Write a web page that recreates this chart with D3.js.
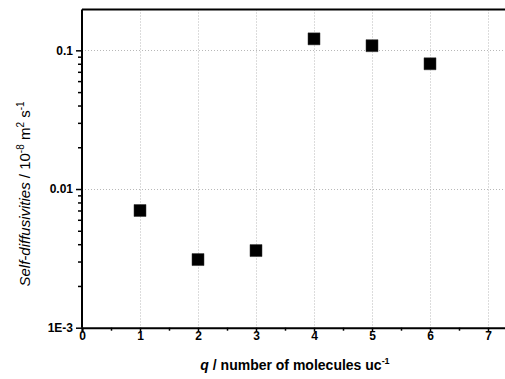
<!DOCTYPE html>
<html><head><meta charset="utf-8">
<script src="https://cdn.jsdelivr.net/npm/d3@7"></script>
<style>
html,body{margin:0;padding:0;background:#fff;}
svg{display:block;font-family:"Liberation Sans",Arial,sans-serif;}
</style></head>
<body>
<script>
const qValues = [1, 2, 3, 4, 5, 6];
const diffusivities = [0.0070, 0.0031, 0.0036, 0.121, 0.108, 0.080];
const xTickValues = [0, 1, 2, 3, 4, 5, 6, 7];
const yTickValues = [0.001, 0.01, 0.1];
const yTickLabels = ["1E-3", "0.01", "0.1"];

(function () {
const W = 505, H = 379;
const svg = d3.select("body").append("svg").attr("width", W).attr("height", H);

const x = d3.scaleLinear().domain([0, 7.5]).range([82, 82 + 7.5 * 58]);
const y = d3.scaleLog().domain([0.001, 0.197]).range([327.7, 9.5]);

const yTop = y.range()[1], yBot = y.range()[0];
const xLeft = x.range()[0], xRight = x.range()[1];

// grid
const grid = svg.append("g").attr("stroke", "#b8b8b8").attr("stroke-width", 1).attr("stroke-dasharray", "1,2");
grid.selectAll("line.v").data(xTickValues.filter(d => d > 0)).join("line")
  .attr("x1", d => Math.round(x(d)) + 0.5).attr("x2", d => Math.round(x(d)) + 0.5)
  .attr("y1", yTop).attr("y2", yBot);
grid.selectAll("line.h").data(yTickValues.filter(d => d > 0.001)).join("line")
  .attr("y1", d => Math.round(y(d)) + 0.5).attr("y2", d => Math.round(y(d)) + 0.5)
  .attr("x1", xLeft).attr("x2", xRight);

// frame top
svg.append("line").attr("x1", xLeft).attr("x2", xRight).attr("y1", yTop).attr("y2", yTop)
  .attr("stroke", "#000").attr("stroke-width", 2);

// x axis
const xAxis = d3.axisBottom(x).tickValues(xTickValues).tickFormat(d3.format("d")).tickSize(4).tickPadding(0);
const gx = svg.append("g").attr("transform", `translate(0,${yBot})`).call(xAxis);
gx.select(".domain").attr("stroke-width", 2);
gx.selectAll(".tick line").attr("stroke-width", 1.5);
gx.selectAll(".tick text").attr("font-size", 12).attr("font-weight", "bold").attr("fill", "#000")
  .attr("font-family", '"Liberation Sans",Arial,sans-serif');
const xMinor = d3.axisBottom(x).tickValues(d3.range(0.5, 7.5, 1)).tickSize(3).tickFormat("");
const gxm = svg.append("g").attr("transform", `translate(0,${yBot})`).call(xMinor);
gxm.select(".domain").remove();
gxm.selectAll(".tick line").attr("stroke-width", 1.5);

// y axis
const yAxis = d3.axisLeft(y).tickValues(yTickValues).tickFormat((d, i) => yTickLabels[i]).tickSize(6).tickPadding(3);
const gy = svg.append("g").attr("transform", `translate(${xLeft},0)`).call(yAxis);
gy.select(".domain").attr("stroke-width", 2).attr("d", `M0,${yBot}V${yTop}`);
gy.selectAll(".tick line").attr("stroke-width", 1.5);
gy.selectAll(".tick text").attr("font-size", 12).attr("font-weight", "bold").attr("fill", "#000")
  .attr("font-family", '"Liberation Sans",Arial,sans-serif');
const minorY = [];
[0.001, 0.01, 0.1].forEach(dec => { for (let k = 2; k <= 9; k++) { const v = dec * k; if (v <= 0.197) minorY.push(v); } });
const yMinor = d3.axisLeft(y).tickValues(minorY).tickSize(4).tickFormat("");
const gym = svg.append("g").attr("transform", `translate(${xLeft},0)`).call(yMinor);
gym.select(".domain").remove();
gym.selectAll(".tick line").attr("stroke-width", 1.5);

// points
svg.append("g").selectAll("path").data(qValues).join("path")
  .attr("d", d3.symbol().type(d3.symbolSquare).size(144))
  .attr("transform", (d, i) => `translate(${x(d)},${y(diffusivities[i])})`)
  .attr("fill", "#000").attr("stroke", "#333").attr("stroke-width", 0.5);

// x title
const xt = svg.append("text").attr("x", 295).attr("y", 370).attr("text-anchor", "middle")
  .attr("font-size", 14).attr("font-weight", "bold").attr("fill", "#000");
xt.append("tspan").attr("font-style", "italic").text("q");
xt.append("tspan").text(" / number of molecules uc");
xt.append("tspan").attr("font-size", 9).attr("dy", -6).text("-1");

// y title
const yt = svg.append("text").attr("transform", "translate(30,194) rotate(-90)").attr("text-anchor", "middle")
  .attr("font-size", 15).attr("fill", "#000");
yt.append("tspan").attr("font-style", "italic").text("Self-diffusivities");
yt.append("tspan").text(" / 10");
yt.append("tspan").attr("font-size", 10).attr("dy", -6).text("-8");
yt.append("tspan").attr("dy", 6).text(" m");
yt.append("tspan").attr("font-size", 10).attr("dy", -6).text("2");
yt.append("tspan").attr("dy", 6).text(" s");
yt.append("tspan").attr("font-size", 10).attr("dy", -6).text("-1");
})();
</script>
</body></html>
